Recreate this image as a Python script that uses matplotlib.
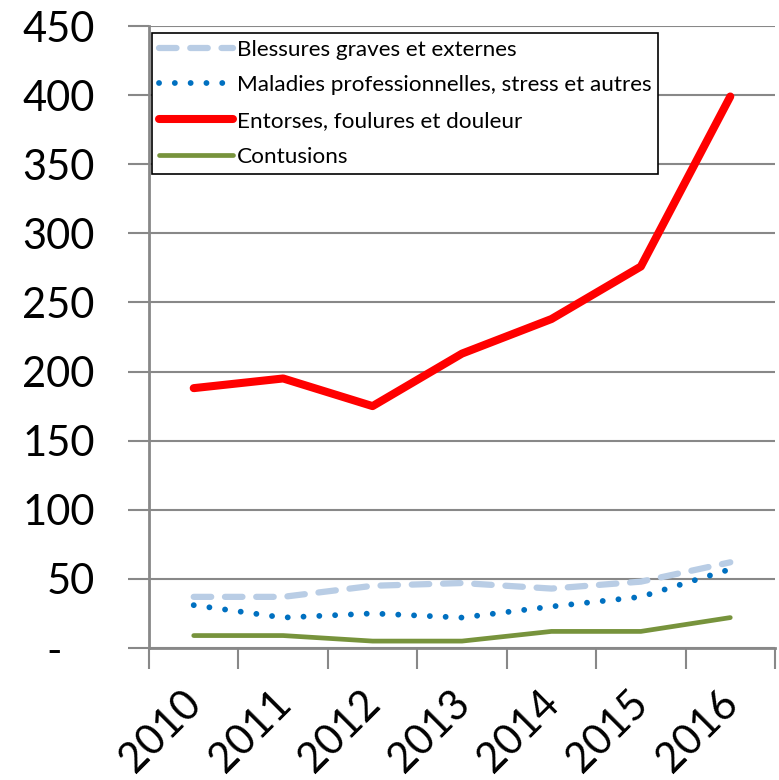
import matplotlib as mpl
import matplotlib.pyplot as plt
import numpy as np
from matplotlib.transforms import ScaledTranslation

years = ["2010", "2011", "2012", "2013", "2014", "2015", "2016"]
blessures = [37, 37, 45, 47, 43, 48, 62]
maladies = [31, 22, 25, 22, 30, 37, 57]
entorses = [188, 195, 175, 213, 238, 276, 399]
contusions = [9, 9, 5, 5, 12, 12, 22]

mpl.rcParams.update({
    "font.family": ["Lato", "DejaVu Sans"],
})

GRID = "#888888"

fig = plt.figure(figsize=(7.79, 7.80), dpi=100)
ax = fig.add_axes([149 / 779, 1 - 648 / 780, 626 / 779, 622 / 780])

x = np.arange(len(years))

ax.plot(x, blessures, color="#B9CDE5", linewidth=4.5, linestyle=(0, (2.8, 2.2)),
        dash_capstyle="round", solid_capstyle="round", label="Blessures graves et externes", zorder=3)
ax.plot(x, maladies, color="#0070C0", linewidth=4.2, linestyle=(0, (0.01, 2.7)),
        dash_capstyle="round", label="Maladies professionnelles, stress et autres", zorder=3)
ax.plot(x, entorses, color="#FF0000", linewidth=5.8, solid_capstyle="round",
        solid_joinstyle="round", label="Entorses, foulures et douleur", zorder=4)
ax.plot(x, contusions, color="#77933C", linewidth=3.4, solid_capstyle="round",
        label="Contusions", zorder=3)

ax.set_xlim(-0.5, len(years) - 0.5)
ax.set_ylim(0, 450)
yticks = np.arange(0, 451, 50)
ax.set_yticks(yticks)
ax.set_yticklabels(["-   "] + [str(v) for v in yticks[1:]])
ax.grid(axis="y", color=GRID, linewidth=1.5, zorder=0)

ax.set_xticks(x)
ax.set_xticklabels(years, rotation=45, ha="right", rotation_mode="anchor")
ax.set_xticks(np.arange(-0.5, len(years)), minor=True)
ax.tick_params(axis="x", which="major", length=0, pad=26, labelsize=30)
ax.tick_params(axis="x", which="minor", length=15, width=1.5, color=GRID, direction="out")
ax.tick_params(axis="y", length=15, width=1.5, color=GRID, labelsize=30, pad=24)
shift = ScaledTranslation(-12 / 100, 0, fig.dpi_scale_trans)
for lbl in ax.get_xticklabels():
    lbl.set_transform(lbl.get_transform() + shift)

for side in ["top", "right"]:
    ax.spines[side].set_visible(False)
ax.spines["left"].set_color(GRID)
ax.spines["bottom"].set_color(GRID)
ax.spines["left"].set_linewidth(2)
ax.spines["bottom"].set_linewidth(2)

leg = ax.legend(loc="upper left", bbox_to_anchor=(0.005, 0.989), borderaxespad=0,
                fontsize=16.2, handlelength=3.3, handletextpad=0.15, labelspacing=0.7,
                fancybox=False, edgecolor="black", framealpha=1, borderpad=0.3)
leg.get_frame().set_linewidth(1.2)

fig.savefig("out.png", dpi=100)
